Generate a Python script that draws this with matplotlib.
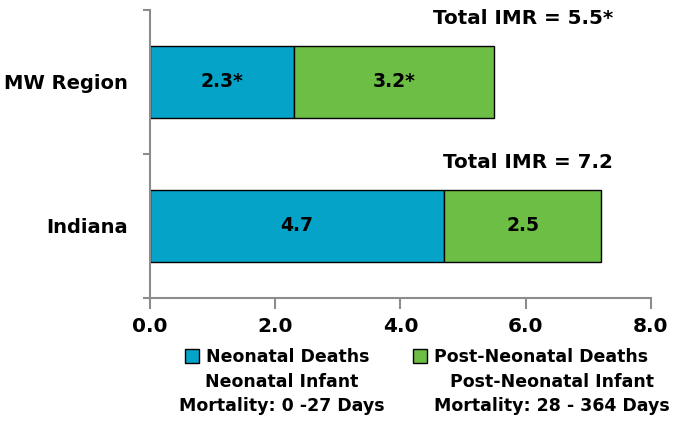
import matplotlib.pyplot as plt
from matplotlib.ticker import FixedLocator

plt.rcParams['font.family'] = ['DejaVu Sans']
plt.rcParams['font.weight'] = 'bold'

# data
regions = ['Indiana', 'MW Region']
neonatal = [4.7, 2.3]
post_neonatal = [2.5, 3.2]
neo_labels = ['4.7', '2.3*']
post_labels = ['2.5', '3.2*']
total_labels = ['Total IMR = 7.2', 'Total IMR = 5.5*']
legend_first = ['Neonatal Deaths', 'Post-Neonatal Deaths']
legend_rest = ['Neonatal Infant\nMortality: 0 -27 Days',
               'Post-Neonatal Infant\nMortality: 28 - 364 Days']
xticks = [0, 2, 4, 6, 8]

blue = '#05a3c8'
green = '#6cbe45'
gray = '#8c8c8c'

fig = plt.figure(figsize=(6.78, 4.23), dpi=100)
ax = fig.add_axes([0.2212, 0.2955, 0.7389, 0.681])

ypos = list(range(len(regions)))
b1 = ax.barh(ypos, neonatal, height=0.5, color=blue, edgecolor='black', linewidth=1)
b2 = ax.barh(ypos, post_neonatal, left=neonatal, height=0.5, color=green,
             edgecolor='black', linewidth=1)
ax.bar_label(b1, labels=neo_labels, label_type='center', fontsize=13.5, fontweight='bold')
ax.bar_label(b2, labels=post_labels, label_type='center', fontsize=13.5, fontweight='bold')

for y, lab in zip(ypos, total_labels):
    ax.text(7.4, y + 0.44, lab, ha='right', va='center', fontsize=14.3, fontweight='bold')

ax.set_xlim(0, 8)
ax.set_ylim(-0.5, 1.5)
ax.set_xticks(xticks)
ax.set_xticklabels([f'{v:.1f}' for v in xticks], fontsize=14.5, fontweight='bold')
ax.set_yticks(ypos)
ax.set_yticklabels(regions, fontsize=14, fontweight='bold')
ax.yaxis.set_minor_locator(FixedLocator([-0.5, 0.5, 1.5]))
ax.tick_params(axis='y', which='major', length=0, pad=16)
ax.tick_params(axis='y', which='minor', length=5, width=1.5, color=gray)
ax.tick_params(axis='x', length=8, width=1.5, color=gray, pad=6)

for s in ['top', 'right']:
    ax.spines[s].set_visible(False)
for s in ['left', 'bottom']:
    ax.spines[s].set_color(gray)
    ax.spines[s].set_linewidth(1.5)

leg = ax.legend([b1, b2], legend_first, loc='center left', bbox_to_anchor=(185 / 678, 1 - 357 / 423),
                bbox_transform=fig.transFigure, ncol=2, frameon=False, fontsize=12.5,
                handlelength=0.8, handleheight=0.8, handletextpad=0.4, columnspacing=2.5,
                borderpad=0, borderaxespad=0)
for h in leg.legend_handles:
    h.set_edgecolor('black')

fig.text(282 / 678, 1 - 394 / 423, legend_rest[0], ha='center', va='center',
         fontsize=12.5, fontweight='bold', linespacing=1.45)
fig.text(552 / 678, 1 - 394 / 423, legend_rest[1], ha='center', va='center',
         fontsize=12.5, fontweight='bold', linespacing=1.45)

fig.savefig('out.png', dpi=100)
